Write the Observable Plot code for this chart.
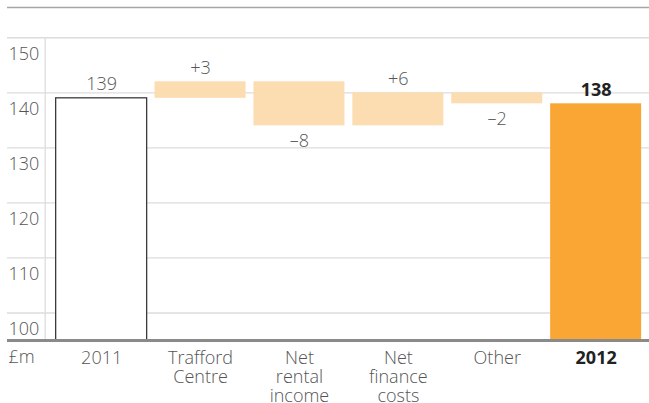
<!DOCTYPE html>
<html>
<head>
<meta charset="utf-8">
<script src="https://cdn.jsdelivr.net/npm/d3@7"></script>
<script src="https://cdn.jsdelivr.net/npm/@observablehq/plot@0.6"></script>
<style>
  html, body { margin: 0; padding: 0; background: #fff; }
  #chart svg { display: block; }
</style>
</head>
<body>
<div id="chart"></div>
<script>
// ---- data ----
const categories = ["2011", "Trafford Centre", "Net rental income", "Net finance costs", "Other", "2012"];
const categoryLabels = ["2011", "Trafford\nCentre", "Net\nrental\nincome", "Net\nfinance\ncosts", "Other", "2012"];
const startValue = 139;
const changes = [3, -8, 6, -2];
const endValue = 138;
const valueLabels = ["139", "+3", "–8", "+6", "–2", "138"];
const yTicks = [100, 110, 120, 130, 140, 150];
const unitLabel = "£m";
const yMin = 95, yMax = 155.5;

// ---- build waterfall rows ----
const rows = [];
rows.push({cat: categories[0], lo: yMin, hi: startValue, kind: "start", label: valueLabels[0], neg: false});
let run = startValue;
changes.forEach((c, i) => {
  const a = run, b = run + c;
  rows.push({cat: categories[i + 1], lo: Math.min(a, b), hi: Math.max(a, b), kind: "change", label: valueLabels[i + 1], neg: c < 0});
  run = b;
});
rows.push({cat: categories[5], lo: yMin, hi: endValue, kind: "end", label: valueLabels[5], neg: false});

const catRows = categories.map((c, i) => ({cat: c, text: categoryLabels[i], bold: i === categories.length - 1}));

const W = 649, H = 403;
const chart = Plot.plot({
  width: W,
  height: H,
  marginTop: 7,
  marginBottom: 63,
  marginLeft: 7,
  marginRight: 0,
  style: {fontFamily: "'Open Sans', sans-serif", fontSize: "18px", color: "#555", background: "#fff"},
  x: {domain: categories, range: [51.7, 645.1], paddingInner: 0.08, paddingOuter: 0.04, round: false, axis: null},
  y: {domain: [yMin, yMax], axis: null},
  marks: [
    Plot.ruleY(yTicks, {stroke: "#dcdcdc", strokeWidth: 1.3}),
    Plot.ruleY([yMax], {stroke: "#a6a6a6", strokeWidth: 1.5}),
    Plot.barY(rows.filter(d => d.kind === "start"), {x: "cat", y1: "lo", y2: "hi", fill: "#fff", stroke: "#3a3a3a", strokeWidth: 1.3}),
    Plot.barY(rows.filter(d => d.kind === "change"), {x: "cat", y1: "lo", y2: "hi", fill: "#fcdcb1"}),
    Plot.barY(rows.filter(d => d.kind === "end"), {x: "cat", y1: "lo", y2: "hi", fill: "#f9a634"}),
    Plot.ruleY([yMin], {stroke: "#8a8a8a", strokeWidth: 3}),
    // value labels
    Plot.text(rows.filter(d => !d.neg && d.kind !== "end"), {x: "cat", y: "hi", text: "label", lineAnchor: "bottom", dy: -8, fill: "#555", fontWeight: 300}),
    Plot.text(rows.filter(d => d.kind === "end"), {x: "cat", y: "hi", text: "label", lineAnchor: "bottom", dy: -8, fill: "#222", fontWeight: "bold"}),
    Plot.text(rows.filter(d => d.neg), {x: "cat", y: "lo", text: "label", lineAnchor: "top", dy: 8, fill: "#555", fontWeight: 300}),
    // y tick labels
    Plot.text(yTicks, {y: d => d, text: d => String(d), frameAnchor: "left", textAnchor: "start", lineAnchor: "top", dx: 1, dy: 9, fill: "#555", fontWeight: 300}),
    // category labels
    Plot.text(catRows.filter(d => !d.bold), {x: "cat", y: () => yMin, text: "text", lineAnchor: "top", dy: 10, lineHeight: 1.06, fill: "#555", fontWeight: 300}),
    Plot.text(catRows.filter(d => d.bold), {x: "cat", y: () => yMin, text: "text", lineAnchor: "top", dy: 10, lineHeight: 1.06, fill: "#222", fontWeight: "bold"}),
    Plot.text([unitLabel], {y: () => yMin, text: d => d, frameAnchor: "left", textAnchor: "start", lineAnchor: "top", dx: 1, dy: 10, fill: "#555", fontWeight: 300})
  ]
});

// vertical axis line just left of the first bar
const ys = chart.scale("y");
const xs = chart.scale("x");
const axisX = xs.apply(categories[0]) - 10.5;
d3.select(chart).insert("line", ":scope > g")
  .attr("x1", axisX).attr("x2", axisX)
  .attr("y1", ys.apply(yTicks[yTicks.length - 1]))
  .attr("y2", ys.apply(yMin))
  .attr("stroke", "#dcdcdc").attr("stroke-width", 1.3);

document.getElementById("chart").appendChild(chart);
</script>
</body>
</html>
